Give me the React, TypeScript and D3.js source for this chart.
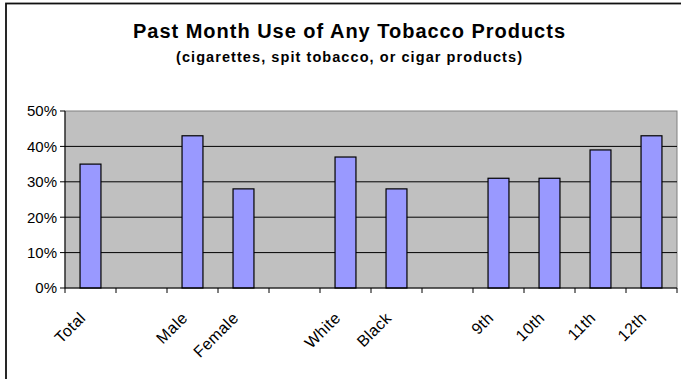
import React from "react";
import * as d3 from "d3";

// Survey categories (blank entries act as spacers between groups)
const categories = ["Total", "", "Male", "Female", "", "White", "Black", "", "9th", "10th", "11th", "12th"];
// Past-month use of any tobacco product, percent
const values: (number | null)[] = [35, null, 43, 28, null, 37, 28, null, 31, 31, 39, 43];
const yTicks = [0, 10, 20, 30, 40, 50];

const title = "Past Month Use of  Any Tobacco Products";
const subtitle = "(cigarettes, spit tobacco, or cigar products)";

const W = 681;
const H = 379;
const plot = { left: 65, right: 677, top: 111, bottom: 288 };
const FONT = "'Liberation Sans', Arial, sans-serif";

export default function App() {
  const x = d3
    .scaleBand<number>()
    .domain(categories.map((_, i) => i))
    .range([plot.left, plot.right])
    .paddingInner(0.59)
    .paddingOuter(0.295);
  const step = x.step();
  const y = d3.scaleLinear().domain([0, 50]).range([plot.bottom, plot.top]);

  const boundaries = d3.range(categories.length + 1).map((i) => plot.left + i * step);

  return (
    <svg
      width={W}
      height={H}
      style={{ position: "absolute", left: 0, top: 0, background: "#fff" }}
      fontFamily={FONT}
    >
      {/* chart frame */}
      <rect x={6} y={3.5} width={W + 20} height={H + 20} fill="none" stroke="#111" strokeWidth={1.8} />

      <text x={349} y={38} textAnchor="middle" fontSize={20} fontWeight="bold" textLength={432} lengthAdjust="spacing">
        {title}
      </text>
      <text x={349} y={62} textAnchor="middle" fontSize={14.5} fontWeight="bold" textLength={346} lengthAdjust="spacing">
        {subtitle}
      </text>

      {/* plot area */}
      <rect
        x={plot.left}
        y={plot.top}
        width={plot.right - plot.left}
        height={plot.bottom - plot.top}
        fill="#C0C0C0"
        stroke="#808080"
        strokeWidth={1}
      />
      {yTicks
        .filter((t) => t > 0 && t < 50)
        .map((t) => (
          <line key={t} x1={plot.left} x2={plot.right} y1={y(t)} y2={y(t)} stroke="#000" strokeWidth={1} />
        ))}

      {values.map((v, i) =>
        v == null ? null : (
          <rect
            key={i}
            x={x(i)!}
            y={y(v)}
            width={x.bandwidth()}
            height={y(0) - y(v)}
            fill="#9999FF"
            stroke="#000"
            strokeWidth={1.2}
          />
        )
      )}

      {/* y axis */}
      <line x1={plot.left} x2={plot.left} y1={plot.top} y2={plot.bottom} stroke="#000" strokeWidth={1} />
      {yTicks.map((t) => (
        <g key={t}>
          <line x1={plot.left - 5} x2={plot.left} y1={y(t)} y2={y(t)} stroke="#000" strokeWidth={1} />
          <text x={57} y={y(t)} dy="0.36em" textAnchor="end" fontSize={15}>
            {t}%
          </text>
        </g>
      ))}

      {/* x axis */}
      <line x1={plot.left} x2={plot.right} y1={plot.bottom} y2={plot.bottom} stroke="#000" strokeWidth={1.2} />
      {boundaries.map((bx, i) => (
        <line key={i} x1={bx} x2={bx} y1={plot.bottom} y2={plot.bottom + 5} stroke="#000" strokeWidth={1} />
      ))}
      {categories.map((c, i) => {
        if (!c) return null;
        const cx = x(i)! + x.bandwidth() / 2 - 4;
        const cy = 319;
        return (
          <text
            key={i}
            x={cx}
            y={cy}
            textAnchor="end"
            fontSize={16}
            letterSpacing={0.4}
            transform={`rotate(-45, ${cx}, ${cy})`}
          >
            {c}
          </text>
        );
      })}
    </svg>
  );
}
